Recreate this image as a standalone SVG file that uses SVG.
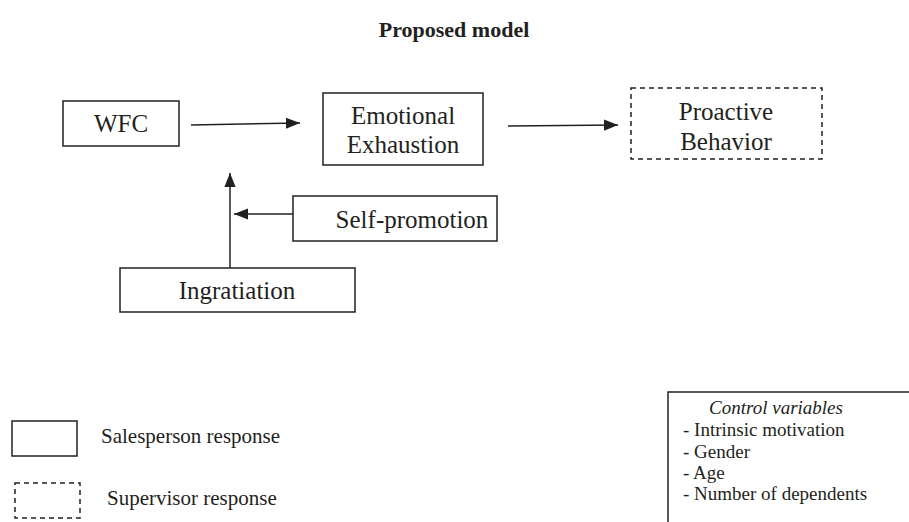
<svg xmlns="http://www.w3.org/2000/svg" width="909" height="522" viewBox="0 0 909 522">
<style>
text{font-family:"Liberation Serif","Times New Roman",serif;fill:#231f20}
.n{font-size:25px;text-anchor:middle}
.box{fill:#fff;stroke:#231f20;stroke-width:1.5}
.dash{fill:#fff;stroke:#231f20;stroke-width:1.5;stroke-dasharray:5,4}
.c{stroke:#231f20;stroke-width:1.5;fill:none;marker-end:url(#ah)}
.lg{font-size:21px}
.cv{font-size:19px}
</style>
<defs>
<marker id="ah" viewBox="0 0 10 10" refX="10" refY="5" markerWidth="14" markerHeight="14" markerUnits="userSpaceOnUse" orient="auto">
<path d="M0,1 L10,5 L0,9 Z" fill="#231f20"/>
</marker>
</defs>
<rect width="909" height="522" fill="#fff"/>
<text x="454" y="37" font-size="22" font-weight="bold" text-anchor="middle">Proposed model</text>
<g id="connectors">
<line class="c" x1="191" y1="125" x2="300" y2="123"/>
<line class="c" x1="508" y1="126" x2="618" y2="125"/>
<line class="c" x1="230" y1="268" x2="230" y2="173"/>
<line class="c" x1="293" y1="214" x2="234" y2="214"/>
</g>
<g id="wfc"><rect class="box" x="63" y="101" width="116" height="45"/><text class="n" x="121" y="132">WFC</text></g>
<g id="ee"><rect class="box" x="323" y="93" width="160" height="72"/><text class="n" x="403" y="124">Emotional</text><text class="n" x="403" y="153">Exhaustion</text></g>
<g id="pb"><rect class="dash" x="631" y="88" width="191" height="71"/><text class="n" x="726" y="120">Proactive</text><text class="n" x="726" y="150">Behavior</text></g>
<g id="sp"><rect class="box" x="293" y="196" width="204" height="45"/><text class="n" x="412" y="228">Self-promotion</text></g>
<g id="ing"><rect class="box" x="120" y="268" width="235" height="44"/><text class="n" x="237" y="299">Ingratiation</text></g>
<g id="legend-sales"><rect class="box" x="12" y="421" width="65" height="35"/><text class="lg" x="101" y="443">Salesperson response</text></g>
<g id="legend-sup"><rect class="dash" x="15" y="483" width="65" height="35"/><text class="lg" x="107" y="505">Supervisor response</text></g>
<g id="controls">
<path d="M668,522 V392 H909" fill="none" stroke="#231f20" stroke-width="1.5"/>
<text class="cv" x="776" y="414" font-style="italic" text-anchor="middle">Control variables</text>
<text class="cv" x="683" y="436">- Intrinsic motivation</text>
<text class="cv" x="683" y="458">- Gender</text>
<text class="cv" x="683" y="479">- Age</text>
<text class="cv" x="683" y="500">- Number of dependents</text>
</g>
</svg>
